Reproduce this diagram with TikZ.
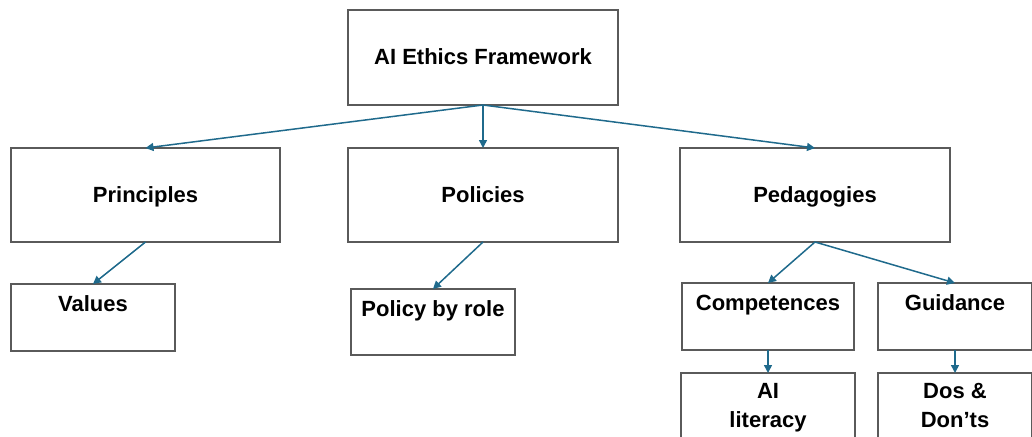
\documentclass[tikz,border=0pt]{standalone}
\usepackage{fontspec}
\setmainfont{Liberation Sans}
\usepackage{tikz}
\usetikzlibrary{arrows.meta}
\definecolor{fwline}{HTML}{5A5A5A}
\definecolor{fwarrow}{HTML}{1F6A8C}
\tikzset{
 fw box/.style={draw=fwline,line width=1.2pt,inner sep=0pt,outer sep=0pt,
                align=center,font=\fontsize{22}{29}\selectfont\bfseries},
 fw top/.style={fw box,minimum width=#1,text height=54pt,text depth=40pt},
 fw sub/.style={fw box,anchor=north,minimum width=#1,text height=27pt},
 fw arrow/.style={draw=fwarrow,line width=1.5pt,
                  -{Triangle[length=8pt,width=8pt]}}
}
\begin{document}
\begin{tikzpicture}[x=1pt,y=-1pt]
 \useasboundingbox (0,0) rectangle (1032,436);
 \clip (0,0) rectangle (1032,436);
 % first two levels, all on one baseline
 \node[fw top=270pt,anchor=north,text depth=41pt] (frame) at (483,10) {AI Ethics Framework};
 \node[fw top=269pt,anchor=north] (princ) at (145.5,148) {Principles};
 \node[fw top=270pt,anchor=north] (polic) at (483,148) {Policies};
 \node[fw top=270pt,anchor=north] (pedag) at (815,148) {Pedagogies};
 % leaves, text sits near the top edge
 \node[fw sub=164pt,text depth=40pt] (values) at (93,284) {Values};
 \node[fw sub=164pt,text depth=39pt] (byrole) at (433,289) {Policy by role};
 \node[fw sub=172pt,text depth=40pt] (compet) at (768,283) {Competences};
 \node[fw sub=154pt,text depth=40pt] (guide) at (955,283) {Guidance};
 % two lines: the baseline is the lower one
 \node[fw sub=174pt,text height=54pt,text depth=30pt] (litcy) at (768,373) {AI\\literacy};
 \node[fw sub=154pt,text height=54pt,text depth=30pt] (dosdont) at (955,373) {Dos \&\\Don’ts};
 \foreach \s/\t in {frame/princ,frame/polic,frame/pedag,princ/values,
                    polic/byrole,pedag/compet,pedag/guide,compet/litcy,guide/dosdont}{
   \draw[fw arrow] (\s.south) -- (\t.north);
 }
\end{tikzpicture}
\end{document}
